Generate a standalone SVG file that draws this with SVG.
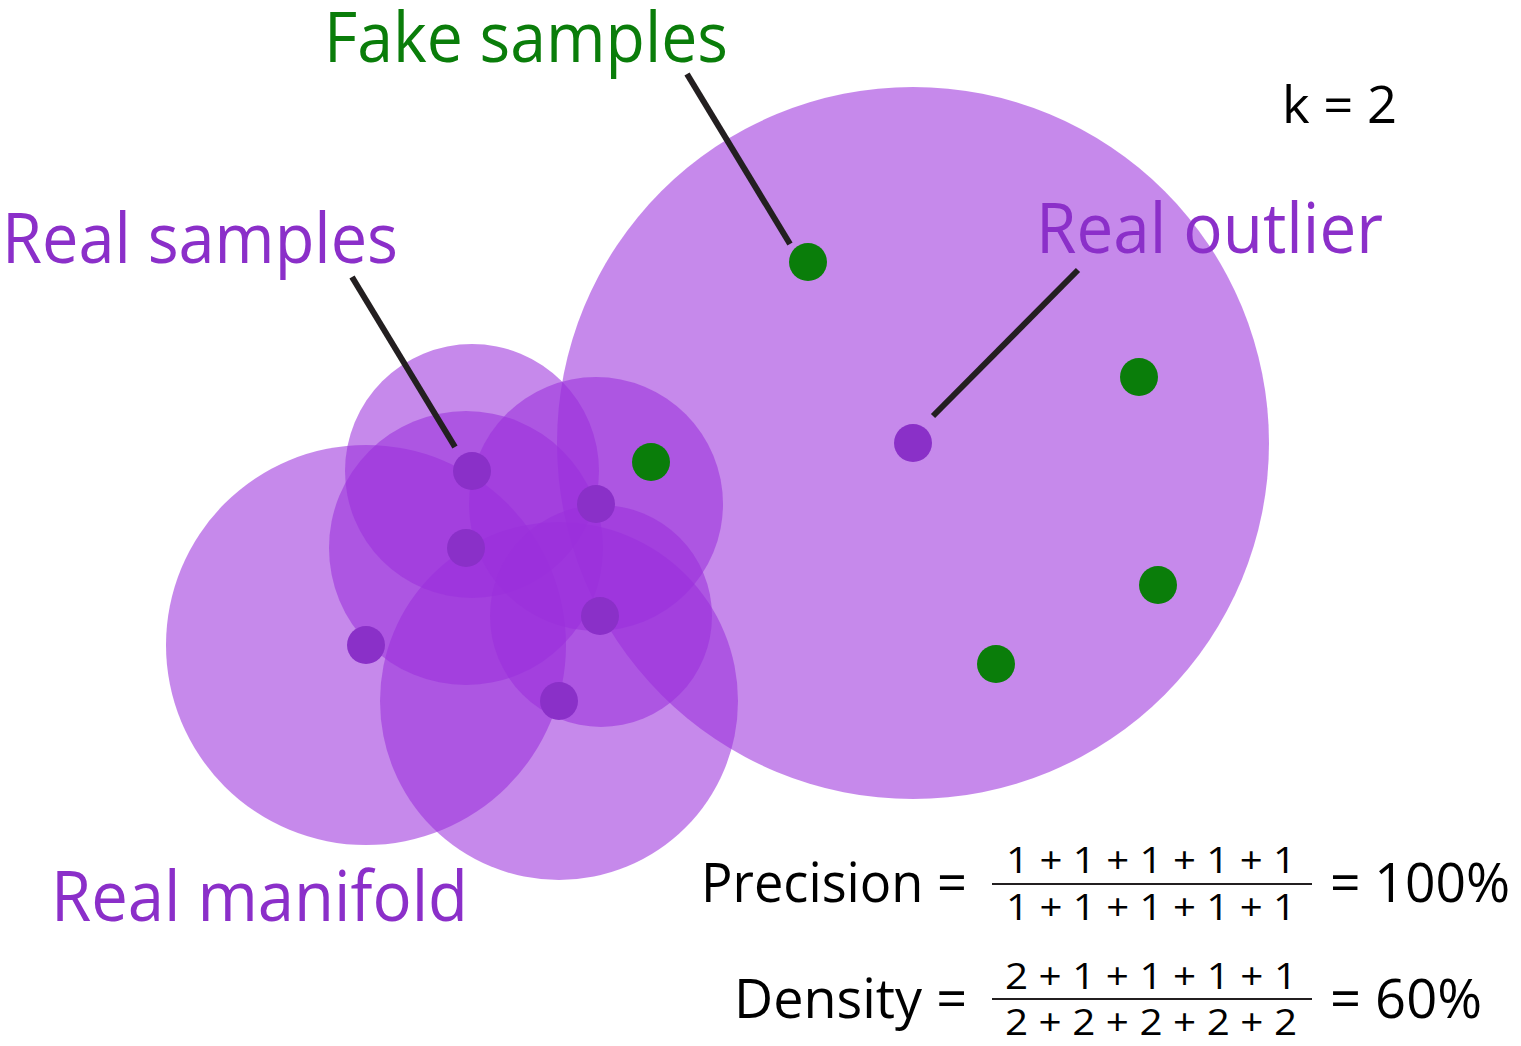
<svg xmlns="http://www.w3.org/2000/svg" width="1521" height="1046" viewBox="0 0 1521 1046">
<style>
.reg{fill:#9B2FDC;fill-opacity:0.57}
.rd{fill:#8A30C8}
.fk{fill:#0A7D0A}
.ln{stroke:#231F20;stroke-width:6;fill:none}
text{font-family:"Open Sans","Noto Sans","Liberation Sans",sans-serif}
.lbl{font-size:70px}
.pur{fill:#8B2FC9}
.grn{fill:#0A7D0A}
.blk{fill:#000}
.eq{font-size:54px}
.fr{font-size:36px}
</style>
<rect width="1521" height="1046" fill="#fff"/>
<g id="regions">
<circle class="reg" cx="913" cy="443" r="356"/>
<circle class="reg" cx="366" cy="645" r="200"/>
<circle class="reg" cx="559" cy="701" r="179"/>
<circle class="reg" cx="466" cy="548" r="137"/>
<circle class="reg" cx="472" cy="471" r="127"/>
<circle class="reg" cx="596" cy="504" r="127"/>
<circle class="reg" cx="601" cy="616" r="111"/>
</g>
<g id="connectors">
<line class="ln" x1="687" y1="74" x2="790" y2="244"/>
<line class="ln" x1="352" y1="277" x2="455" y2="447"/>
<line class="ln" x1="1078" y1="270" x2="933" y2="416"/>
</g>
<g id="real-samples">
<circle class="rd" cx="472" cy="471" r="19"/>
<circle class="rd" cx="596" cy="504" r="19"/>
<circle class="rd" cx="466" cy="548" r="19"/>
<circle class="rd" cx="366" cy="645" r="19"/>
<circle class="rd" cx="600" cy="616" r="19"/>
<circle class="rd" cx="559" cy="701" r="19"/>
</g>
<g id="real-outlier">
<circle class="rd" cx="913" cy="443" r="19"/>
</g>
<g id="fake-samples">
<circle class="fk" cx="808" cy="262" r="19"/>
<circle class="fk" cx="651" cy="462" r="19"/>
<circle class="fk" cx="1139" cy="377" r="19"/>
<circle class="fk" cx="1158" cy="585" r="19"/>
<circle class="fk" cx="996" cy="664" r="19"/>
</g>
<g id="labels">
<text class="lbl grn" x="324" y="62" textLength="404" lengthAdjust="spacingAndGlyphs">Fake samples</text>
<text class="lbl pur" x="2" y="263" textLength="396" lengthAdjust="spacingAndGlyphs">Real samples</text>
<text class="lbl pur" x="1036" y="253" textLength="347" lengthAdjust="spacingAndGlyphs">Real outlier</text>
<text class="lbl pur" x="51" y="921" textLength="417" lengthAdjust="spacingAndGlyphs">Real manifold</text>
<text class="blk" x="1282" y="123" font-size="52" textLength="115" lengthAdjust="spacingAndGlyphs">k = 2</text>
</g>
<g id="formulas">
<text class="eq blk" x="701" y="902" textLength="266" lengthAdjust="spacingAndGlyphs">Precision =</text>
<text class="fr blk" x="1151" y="873" text-anchor="middle" textLength="290" lengthAdjust="spacingAndGlyphs">1 + 1 + 1 + 1 + 1</text>
<line x1="992" y1="884" x2="1312" y2="884" stroke="#231F20" stroke-width="2"/>
<text class="fr blk" x="1151" y="920" text-anchor="middle" textLength="290" lengthAdjust="spacingAndGlyphs">1 + 1 + 1 + 1 + 1</text>
<text class="eq blk" x="1330" y="902" textLength="180" lengthAdjust="spacingAndGlyphs">= 100%</text>
<text class="eq blk" x="734" y="1018" textLength="233" lengthAdjust="spacingAndGlyphs">Density =</text>
<text class="fr blk" x="1151" y="989" text-anchor="middle" textLength="292" lengthAdjust="spacingAndGlyphs">2 + 1 + 1 + 1 + 1</text>
<line x1="992" y1="999" x2="1312" y2="999" stroke="#231F20" stroke-width="2"/>
<text class="fr blk" x="1151" y="1035" text-anchor="middle" textLength="292" lengthAdjust="spacingAndGlyphs">2 + 2 + 2 + 2 + 2</text>
<text class="eq blk" x="1330" y="1018" textLength="152" lengthAdjust="spacingAndGlyphs">= 60%</text>
</g>
</svg>
